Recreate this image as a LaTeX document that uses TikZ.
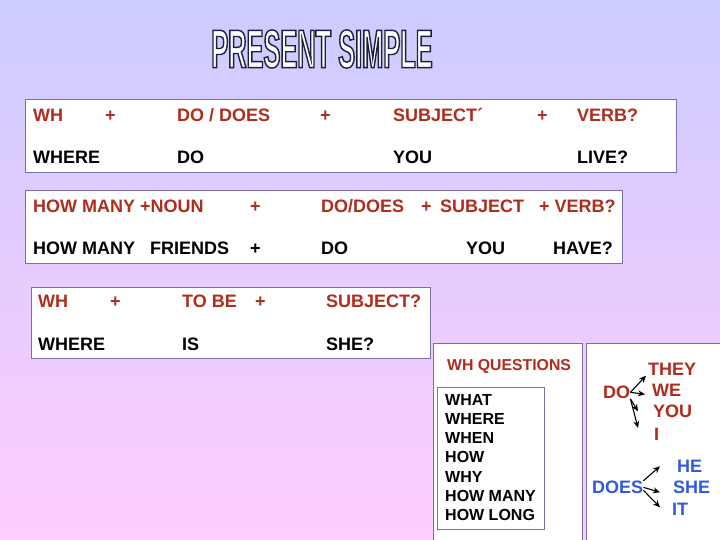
\documentclass[tikz,border=0pt]{standalone}
\usepackage{fontspec}
\setmainfont{Liberation Sans}
\newfontfamily\titelfont[FakeStretch=0.47]{Liberation Sans}
\usetikzlibrary{arrows.meta}
\definecolor{bgoben}{RGB}{204,204,255}
\definecolor{bgunten}{RGB}{255,204,255}
\definecolor{rahmen}{RGB}{120,110,170}
\definecolor{wrot}{RGB}{176,44,28}
\definecolor{wblau}{RGB}{50,90,220}
% Umrissschrift fuer den Titel
\newcommand{\umriss}[1]{\special{pdf:literal direct 2 Tr 1.4 w 0.12 0.12 0.25 RG}#1\special{pdf:literal direct 0 Tr}}
\begin{document}
\begin{tikzpicture}[x=1pt, y=-1pt,
	txt/.style={anchor=base west, inner sep=0pt, font=\fontsize{18}{21}\selectfont\bfseries},
	rot/.style={txt, text=wrot},
	blau/.style={txt, text=wblau},
	kasten/.style={draw=rahmen, fill=white, line width=0.8pt},
	pfeil/.style={-{Stealth[length=7pt, width=6pt]}, line width=1.1pt}]
\useasboundingbox (0,0) rectangle (720,540);
\clip (0,0) rectangle (720,540);
% Hintergrund
\shade[top color=bgoben, bottom color=bgunten] (0,0) rectangle (720,540);

% Titel
\node[text=white, font=\titelfont\bfseries\fontsize{54}{60}\selectfont] (titel) at (322,49) {\umriss{PRESENT SIMPLE}};

% Tabelle 1
\draw[kasten] (25,99) rectangle (676,172);
\node[rot] (ta1) at (33,121.5) {WH};
\node[rot] (ta2) at (105,121.5) {+};
\node[rot] (ta3) at (177,121.5) {DO / DOES};
\node[rot] (ta4) at (320,121.5) {+};
\node[rot] (ta5) at (393,121.5) {SUBJECT´};
\node[rot] (ta6) at (537,121.5) {+};
\node[rot] (ta7) at (577,121.5) {VERB?};
\node[txt] (tb1) at (33,163.5) {WHERE};
\node[txt] (tb2) at (177,163.5) {DO};
\node[txt] (tb3) at (393,163.5) {YOU};
\node[txt] (tb4) at (577,163.5) {LIVE?};

% Tabelle 2
\draw[kasten] (25,190) rectangle (622,263);
\node[rot] (ua1) at (33,212.5) {HOW MANY +NOUN};
\node[rot] (ua2) at (250,212.5) {+};
\node[rot] (ua3) at (321,212.5) {DO/DOES};
\node[rot] (ua4) at (421,212.5) {+};
\node[rot] (ua5) at (440,212.5) {SUBJECT};
\node[rot] (ua6) at (539,212.5) {+ VERB?};
\node[txt] (ub1) at (33,254.5) {HOW MANY};
\node[txt] (ub2) at (150,254.5) {FRIENDS};
\node[txt] (ub3) at (250,254.5) {+};
\node[txt] (ub4) at (321,254.5) {DO};
\node[txt] (ub5) at (466,254.5) {YOU};
\node[txt] (ub6) at (553,254.5) {HAVE?};

% Tabelle 3
\draw[kasten] (31,287) rectangle (430,358);
\node[rot] (va1) at (38,307.5) {WH};
\node[rot] (va2) at (110,307.5) {+};
\node[rot] (va3) at (182,307.5) {TO BE};
\node[rot] (va4) at (255,307.5) {+};
\node[rot] (va5) at (326,307.5) {SUBJECT?};
\node[txt] (vb1) at (38,350.5) {WHERE};
\node[txt] (vb2) at (182,350.5) {IS};
\node[txt] (vb3) at (326,350.5) {SHE?};

% WH-Fragen
\draw[kasten] (433,343) rectangle (582,545);
\node[rot, font=\fontsize{15.8}{19}\selectfont\bfseries] (whfragen) at (447,370) {WH QUESTIONS};
\draw[kasten] (437,387) rectangle (544,529);
\node[anchor=north west, inner sep=0pt, align=left, font=\fontsize{16}{19.2}\selectfont\bfseries] (fragen) at (445,394)
	{WHAT\\WHERE\\WHEN\\HOW\\WHY\\HOW MANY\\HOW LONG};

% DO / DOES
\draw[kasten] (586,343) rectangle (725,545);
\node[rot] (do) at (603,398.5) {DO};
\node[rot] (they) at (648,375.5) {THEY};
\node[rot] (we) at (652,396.5) {WE};
\node[rot] (you) at (653,417.5) {YOU};
\node[rot] (i) at (654,440.5) {I};
\draw[pfeil] (do.east) -- ([xshift=-2pt]they.south west);
\draw[pfeil] (do.east) -- ([xshift=-7pt, yshift=-4pt]we.west);
\draw[pfeil] (do.south east) -- ([xshift=-15pt]you.west);
\draw[pfeil] (do.south east) -- ([xshift=-16pt]i.north west);

\node[blau] (does) at (592,493.5) {DOES};
\node[blau] (he) at (677,472.5) {HE};
\node[blau] (she) at (673,493.5) {SHE};
\node[blau] (it) at (672,515.5) {IT};
\draw[pfeil] (does.north east) -- ([xshift=-17pt]he.west);
\draw[pfeil] (does.east) -- ([xshift=-13pt, yshift=-5pt]she.west);
\draw[pfeil] ([yshift=-3pt]does.east) -- ([xshift=-12pt, yshift=2pt]it.west);
\end{tikzpicture}
\end{document}
